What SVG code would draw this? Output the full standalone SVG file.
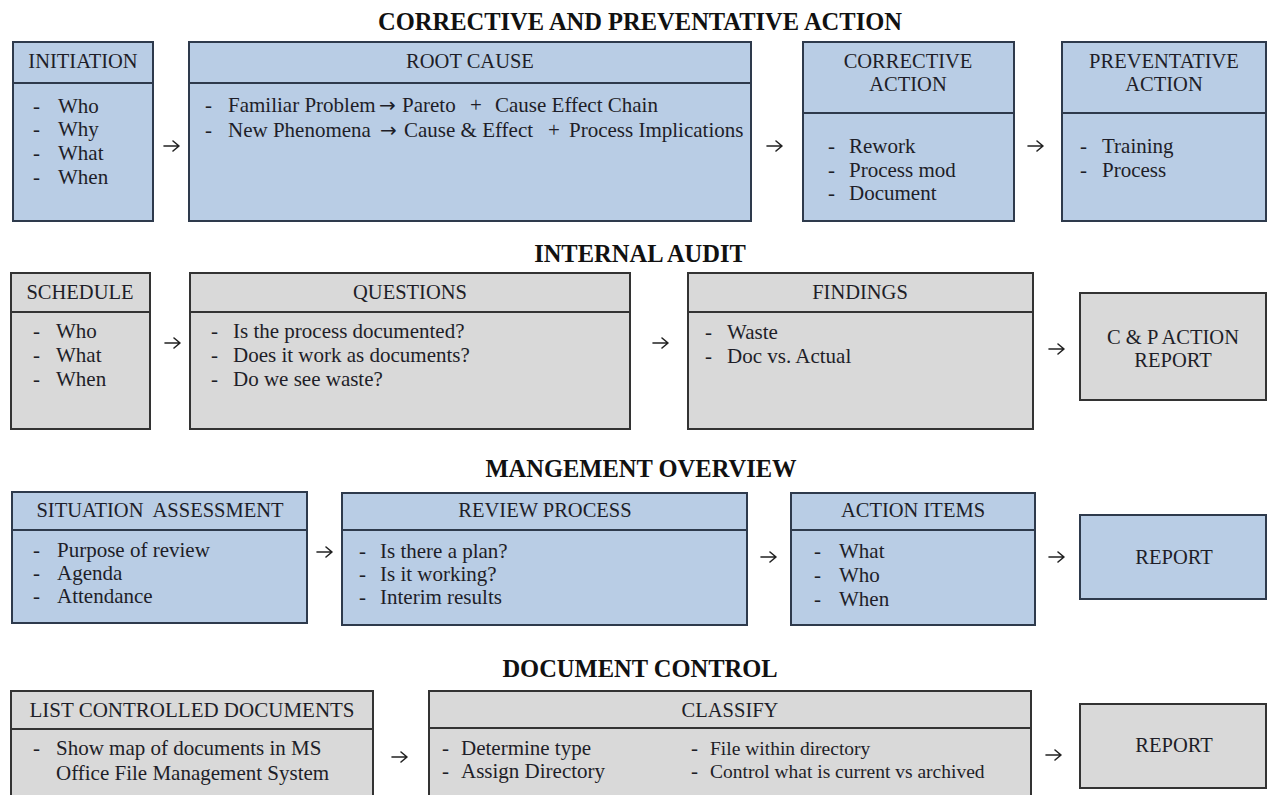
<svg xmlns="http://www.w3.org/2000/svg" width="1267" height="795" viewBox="0 0 1267 795">
<defs>
<style>
.bg{fill:#ffffff}
.blue{fill:#b9cde5;stroke:#2e3a4c;stroke-width:2}
.gray{fill:#d9d9d9;stroke:#333333;stroke-width:2}
.div{stroke:#2e3a4c;stroke-width:2}
.divg{stroke:#333333;stroke-width:2}
.t{font-family:"Liberation Serif","Times New Roman",serif;font-size:21px;fill:#1e1e28}
.h{font-size:20.5px}
.s{font-size:19.5px}
.c{text-anchor:middle}
.ar{font-family:"DejaVu Sans",sans-serif;font-size:20px;fill:#1e1e28}
.title{font-family:"Liberation Serif","Times New Roman",serif;font-size:24.5px;font-weight:bold;fill:#111111;text-anchor:middle}
.arr{fill:none;stroke:#222222;stroke-width:1.6;stroke-linecap:round;stroke-linejoin:round}
</style>
</defs>
<rect class="bg" x="0" y="0" width="1267" height="795"/>

<!-- Titles -->
<text class="title" x="640" y="30">CORRECTIVE AND PREVENTATIVE ACTION</text>
<text class="title" x="640" y="262">INTERNAL AUDIT</text>
<text class="title" x="641" y="477">MANGEMENT OVERVIEW</text>
<text class="title" x="640" y="677">DOCUMENT CONTROL</text>

<!-- Row 1 -->
<g id="initiation">
<rect class="blue" x="13" y="42" width="140" height="179"/>
<line class="div" x1="13" y1="83" x2="153" y2="83"/>
<text class="t h c" x="83" y="68">INITIATION</text>
<text class="t" x="33" y="113">-</text><text class="t" x="58" y="113">Who</text>
<text class="t" x="33" y="136">-</text><text class="t" x="58" y="136">Why</text>
<text class="t" x="33" y="160">-</text><text class="t" x="58" y="160">What</text>
<text class="t" x="33" y="184">-</text><text class="t" x="58" y="184">When</text>
</g>
<g id="root-cause">
<rect class="blue" x="189" y="42" width="562" height="179"/>
<line class="div" x1="189" y1="83" x2="751" y2="83"/>
<text class="t h c" x="470" y="68">ROOT CAUSE</text>
<text class="t" x="205" y="112">-</text><text class="t" x="228" y="112">Familiar Problem</text><text class="ar" x="379" y="112">→</text><text class="t" x="402" y="112">Pareto</text><text class="t" x="470" y="112">+</text><text class="t" x="495" y="112">Cause Effect Chain</text>
<text class="t" x="205" y="137">-</text><text class="t" x="228" y="137">New Phenomena</text><text class="ar" x="380" y="137">→</text><text class="t" x="404" y="137">Cause &amp; Effect</text><text class="t" x="548" y="137">+</text><text class="t" x="569" y="137">Process Implications</text>
</g>
<g id="corrective-action">
<rect class="blue" x="803" y="42" width="211" height="179"/>
<line class="div" x1="803" y1="113" x2="1014" y2="113"/>
<text class="t h c" x="908" y="68">CORRECTIVE</text>
<text class="t h c" x="908" y="91">ACTION</text>
<text class="t" x="828" y="153">-</text><text class="t" x="849" y="153">Rework</text>
<text class="t" x="828" y="177">-</text><text class="t" x="849" y="177">Process mod</text>
<text class="t" x="828" y="200">-</text><text class="t" x="849" y="200">Document</text>
</g>
<g id="preventative-action">
<rect class="blue" x="1062" y="42" width="204" height="179"/>
<line class="div" x1="1062" y1="113" x2="1266" y2="113"/>
<text class="t h c" x="1164" y="68">PREVENTATIVE</text>
<text class="t h c" x="1164" y="91">ACTION</text>
<text class="t" x="1080" y="153">-</text><text class="t" x="1102" y="153">Training</text>
<text class="t" x="1080" y="177">-</text><text class="t" x="1102" y="177">Process</text>
</g>

<!-- Row 2 -->
<g id="schedule">
<rect class="gray" x="11" y="273" width="139" height="156"/>
<line class="divg" x1="11" y1="312" x2="150" y2="312"/>
<text class="t h c" x="80" y="299">SCHEDULE</text>
<text class="t" x="33" y="338">-</text><text class="t" x="56" y="338">Who</text>
<text class="t" x="33" y="362">-</text><text class="t" x="56" y="362">What</text>
<text class="t" x="33" y="386">-</text><text class="t" x="56" y="386">When</text>
</g>
<g id="questions">
<rect class="gray" x="190" y="273" width="440" height="156"/>
<line class="divg" x1="190" y1="312" x2="630" y2="312"/>
<text class="t h c" x="410" y="299">QUESTIONS</text>
<text class="t" x="211" y="338">-</text><text class="t" x="233" y="338">Is the process documented?</text>
<text class="t" x="211" y="362">-</text><text class="t" x="233" y="362">Does it work as documents?</text>
<text class="t" x="211" y="386">-</text><text class="t" x="233" y="386">Do we see waste?</text>
</g>
<g id="findings">
<rect class="gray" x="688" y="273" width="345" height="156"/>
<line class="divg" x1="688" y1="312" x2="1033" y2="312"/>
<text class="t h c" x="860" y="299">FINDINGS</text>
<text class="t" x="705" y="339">-</text><text class="t" x="727" y="339">Waste</text>
<text class="t" x="705" y="363">-</text><text class="t" x="727" y="363">Doc vs. Actual</text>
</g>
<g id="cp-action-report">
<rect class="gray" x="1080" y="293" width="186" height="107"/>
<text class="t h c" x="1173" y="344">C &amp; P ACTION</text>
<text class="t h c" x="1173" y="367">REPORT</text>
</g>

<!-- Row 3 -->
<g id="situation-assessment">
<rect class="blue" x="12" y="492" width="295" height="131"/>
<line class="div" x1="12" y1="530" x2="307" y2="530"/>
<text class="t h c" x="160" y="517" xml:space="preserve">SITUATION  ASSESSMENT</text>
<text class="t" x="33" y="557">-</text><text class="t" x="57" y="557">Purpose of review</text>
<text class="t" x="33" y="580">-</text><text class="t" x="57" y="580">Agenda</text>
<text class="t" x="33" y="603">-</text><text class="t" x="57" y="603">Attendance</text>
</g>
<g id="review-process">
<rect class="blue" x="342" y="493" width="405" height="132"/>
<line class="div" x1="342" y1="530" x2="747" y2="530"/>
<text class="t h c" x="545" y="517">REVIEW PROCESS</text>
<text class="t" x="359" y="558">-</text><text class="t" x="380" y="558">Is there a plan?</text>
<text class="t" x="359" y="581">-</text><text class="t" x="380" y="581">Is it working?</text>
<text class="t" x="359" y="604">-</text><text class="t" x="380" y="604">Interim results</text>
</g>
<g id="action-items">
<rect class="blue" x="791" y="493" width="244" height="132"/>
<line class="div" x1="791" y1="530" x2="1035" y2="530"/>
<text class="t h c" x="913" y="517">ACTION ITEMS</text>
<text class="t" x="814" y="558">-</text><text class="t" x="839" y="558">What</text>
<text class="t" x="814" y="582">-</text><text class="t" x="839" y="582">Who</text>
<text class="t" x="814" y="606">-</text><text class="t" x="839" y="606">When</text>
</g>
<g id="report-mgmt">
<rect class="blue" x="1080" y="515" width="186" height="84"/>
<text class="t h c" x="1174" y="564">REPORT</text>
</g>

<!-- Row 4 -->
<g id="list-controlled-documents">
<rect class="gray" x="11" y="691" width="362" height="110"/>
<line class="divg" x1="11" y1="729" x2="373" y2="729"/>
<text class="t c" x="192" y="717">LIST CONTROLLED DOCUMENTS</text>
<text class="t" x="33" y="755">-</text><text class="t" x="56" y="755">Show map of documents in MS</text>
<text class="t" x="56" y="780">Office File Management System</text>
</g>
<g id="classify">
<rect class="gray" x="429" y="691" width="602" height="110"/>
<line class="divg" x1="429" y1="728" x2="1031" y2="728"/>
<text class="t h c" x="730" y="717">CLASSIFY</text>
<text class="t" x="442" y="755">-</text><text class="t" x="461" y="755">Determine type</text>
<text class="t" x="442" y="778">-</text><text class="t" x="461" y="778">Assign Directory</text>
<text class="t" x="691" y="755">-</text><text class="t s" x="710" y="755">File within directory</text>
<text class="t" x="691" y="778">-</text><text class="t s" x="710" y="778">Control what is current vs archived</text>
</g>
<g id="report-doc">
<rect class="gray" x="1080" y="704" width="186" height="84"/>
<text class="t h c" x="1174" y="752">REPORT</text>
</g>

<!-- Connectors -->
<g id="connectors">
<path class="arr" d="M164 146 H179 M173 141 L179 146 L173 151"/>
<path class="arr" d="M767 146 H782 M776 141 L782 146 L776 151"/>
<path class="arr" d="M1028 146 H1043 M1037 141 L1043 146 L1037 151"/>
<path class="arr" d="M165 343 H180 M174 338 L180 343 L174 348"/>
<path class="arr" d="M653 343 H668 M662 338 L668 343 L662 348"/>
<path class="arr" d="M1049 349 H1064 M1058 344 L1064 349 L1058 354"/>
<path class="arr" d="M317 552 H332 M326 547 L332 552 L326 557"/>
<path class="arr" d="M761 557 H776 M770 552 L776 557 L770 562"/>
<path class="arr" d="M1049 557 H1064 M1058 552 L1064 557 L1058 562"/>
<path class="arr" d="M392 757 H407 M401 752 L407 757 L401 762"/>
<path class="arr" d="M1046 755 H1061 M1055 750 L1061 755 L1055 760"/>
</g>
</svg>
